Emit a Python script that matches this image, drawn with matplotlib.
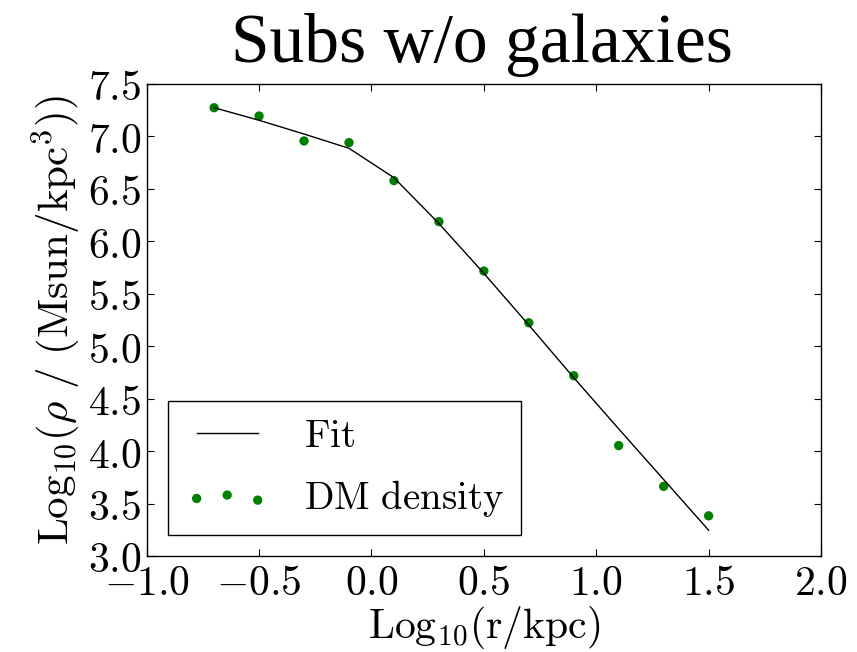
import matplotlib
matplotlib.use("Agg")
import matplotlib.pyplot as plt
from matplotlib.legend_handler import HandlerLine2D, HandlerPathCollection

# Radial bins (log10 r / kpc)
log_r = [-0.7, -0.5, -0.3, -0.1, 0.1, 0.3, 0.5, 0.7, 0.9, 1.1, 1.3, 1.5]
# Measured dark-matter density (log10 Msun/kpc^3)
dm_density = [7.274, 7.195, 6.957, 6.941, 6.579, 6.188, 5.717, 5.224, 4.719, 4.053, 3.664, 3.383]
# Fitted profile evaluated at the same radii
fit_density = [7.274, 7.154, 7.023, 6.887, 6.607, 6.170, 5.695, 5.202, 4.700, 4.212, 3.729, 3.246]

x_ticks = [-1.0, -0.5, 0.0, 0.5, 1.0, 1.5, 2.0]
y_ticks = [3.0, 3.5, 4.0, 4.5, 5.0, 5.5, 6.0, 6.5, 7.0, 7.5]

plt.rcParams["mathtext.fontset"] = "cm"

fig = plt.figure(figsize=(8.57, 6.52), dpi=100)
ax = fig.add_axes([146.7 / 857, 1 - 556 / 652, (821 - 146.7) / 857, (556 - 84) / 652])

fit_line, = ax.plot(log_r, fit_density, color="black", lw=1.0, label="Fit")
dm_pts = ax.scatter(log_r, dm_density, s=45, color="green", edgecolors="none", label="DM density")

ax.set_xlim(-1.0, 2.0)
ax.set_ylim(3.0, 7.5)
ax.set_xticks(x_ticks)
ax.set_yticks(y_ticks)
ax.set_xticklabels([r"$%.1f$" % v for v in x_ticks], fontsize=30)
ax.set_yticklabels([r"$%.1f$" % v for v in y_ticks], fontsize=30)
ax.tick_params(direction="in", length=5, width=0.8, top=True, right=True, pad=4)
for sp in ax.spines.values():
    sp.set_linewidth(1.0)

ax.set_xlabel(r"$\mathrm{Log_{10}(r/kpc)}$", fontsize=30, labelpad=0)
ax.set_ylabel(r"$\mathrm{Log_{10}(}\rho\mathrm{\ /\ (Msun/kpc^3))}$", fontsize=31, labelpad=3)
fig.text(482 / 857, 1 - 62 / 652, "Subs w/o galaxies", fontsize=50,
         family="Liberation Serif", ha="center", va="baseline")

handlers = {
    fit_line: HandlerLine2D(xpad=0.31),
    dm_pts: HandlerPathCollection(xpad=0.31, marker_pad=0.0),
}
leg = ax.legend(handles=[fit_line, dm_pts],
                labels=[r"$\mathrm{Fit}$", r"$\mathrm{DM\ density}$"],
                handler_map=handlers,
                loc="lower left", bbox_to_anchor=(0.032, 0.0445), borderaxespad=0,
                scatterpoints=3, fontsize=28, handlelength=1.88, handletextpad=1.2,
                borderpad=0.42, labelspacing=0.58,
                fancybox=False, framealpha=1, edgecolor="black")
leg.get_frame().set_linewidth(1.0)

fig.savefig("out.png", dpi=100)
